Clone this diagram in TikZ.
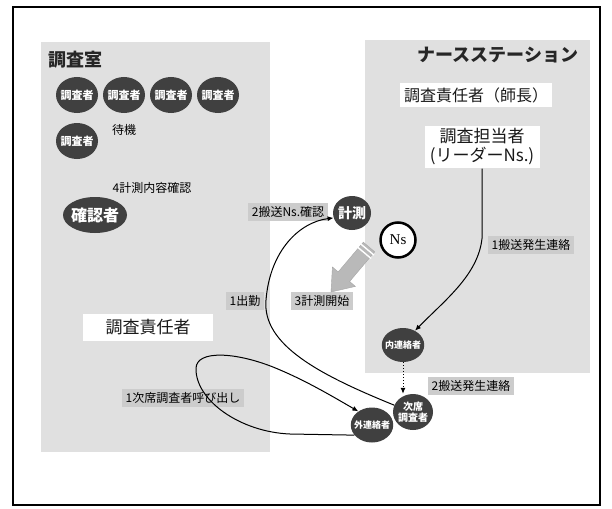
\documentclass[tikz,border=0pt]{standalone}
\usepackage{fontspec}
\setmainfont{Noto Sans CJK JP}
\newfontfamily\nsfont{Liberation Serif}
\usetikzlibrary{arrows.meta,calc,shapes.geometric}
\definecolor{roomc}{gray}{0.88}
\definecolor{lblbg}{gray}{0.80}
\definecolor{darkc}{gray}{0.25}
\begin{document}
\begin{tikzpicture}[x=1pt,y=-1pt,
  person/.style={ellipse, fill=darkc, text=white, inner sep=-3pt,
    font=\bfseries\fontsize{11}{12}\selectfont, minimum width=42pt, minimum height=36pt},
  lbl/.style={fill=lblbg, inner xsep=4pt, inner ysep=3pt, text=black,
    font=\fontsize{12}{13}\selectfont},
  plain/.style={text=black, font=\fontsize{12}{13}\selectfont},
  wbox/.style={fill=white, inner sep=3pt, text=black!90},
  conn/.style={line width=1pt, -{Latex[length=6pt,width=5pt]}},
]
\useasboundingbox (0,0) rectangle (612,508);
\fill[white] (0,0) rectangle (612,508);
% frame
\draw[line width=1.5pt] (13,7) rectangle (600,505);
% rooms
\fill[roomc] (41,42) rectangle (270,452);
\fill[roomc] (365,40) rectangle (590,373);

% titles
\node[anchor=west, text=black!85, font=\bfseries\fontsize{18}{20}\selectfont] (shitsu) at (45,60) {調査室};
\node[text=black!85, font=\bfseries\fontsize{18}{20}\selectfont] (nstation) at (498,55) {ナースステーション};

% white boxes
\node[wbox, minimum width=152pt, minimum height=24pt, font=\fontsize{16}{19}\selectfont] (sekinin) at (476,95) {調査責任者（師長）};
\node[wbox, align=center, minimum width=115pt, minimum height=40pt, font=\fontsize{17}{19}\selectfont] (tanto) at (482,147) {調査担当者\\(リーダーNs.)};
\node[wbox, minimum width=130pt, minimum height=27pt, font=\fontsize{17}{20}\selectfont] (sekinin2) at (148,327) {調査責任者};

% persons in room
\node[person] (c1) at (77,95) {調査者};
\node[person] (c2) at (124,95) {調査者};
\node[person] (c3) at (171,95) {調査者};
\node[person] (c4) at (218,95) {調査者};
\node[person] (c5) at (77,141) {調査者};
\node[plain] (taiki) at (124,130) {待機};
\node[plain] (kakunin4) at (152,188) {4計測内容確認};
\node[person, inner sep=-4pt, minimum width=64pt, minimum height=36pt, font=\bfseries\fontsize{16}{17}\selectfont] (kakuninsha) at (95,215) {確認者};

% measurement
\node[person, font=\bfseries\fontsize{14}{15}\selectfont, minimum width=38pt, minimum height=34pt] (keisoku) at (352,213) {計測};
\node[circle, draw=black, line width=2.5pt, fill=white, minimum size=35pt, inner sep=0pt, font=\nsfont\fontsize{15}{16}\selectfont] (nsc) at (398,240) {Ns};

% contacts
\node[person, font=\bfseries\fontsize{9}{10}\selectfont, minimum width=40pt, minimum height=34pt] (naire) at (403,345) {内連絡者};
\node[person, font=\bfseries\fontsize{9}{10}\selectfont, minimum width=40pt, minimum height=35pt] (gaire) at (372,425) {外連絡者};
\node[person, align=center, font=\bfseries\fontsize{10}{11}\selectfont, minimum width=40pt, minimum height=36pt] (jiseki) at (413,412) {次席\\調査者};

% labels
\node[lbl] (l2ns) at (288,212) {2搬送Ns.確認};
\node[lbl] (l1shukkin) at (245,301) {1出勤};
\node[lbl] (l3) at (322,301) {3計測開始};
\node[lbl] (l1han) at (531,245) {1搬送発生連絡};
\node[lbl] (l2han) at (471,386) {2搬送発生連絡};
\node[lbl] (l1ji) at (183,398) {1次席調査者呼び出し};

% gray block arrow
\fill[gray!55, draw=gray!70] (374.7,251.8) -- (349.6,281.5) -- (355.4,286.4) -- (331,292)
  -- (332.4,267.0) -- (338.2,271.9) -- (363.3,242.2) -- cycle;
\draw[white, line width=1.4pt] (374.0,255.1) -- (360.2,243.5);
\draw[white, line width=1.4pt] (371.1,258.5) -- (357.3,246.9);

% connectors
\draw[conn] (tanto.south) -- ++(0,70) .. controls (478,275) and (445,300) .. (naire.50);
\draw[conn, dotted] (naire.south) -- (naire.south |- jiseki.north);
\draw[conn] (jiseki.160) .. controls (320,375) and (262,345) .. (266,300)
  .. controls (270,250) and (300,222) .. (keisoku.195);
\draw[conn] (gaire.210) -- (290,434) .. controls (240,432) and (195,400) .. (196,368)
  .. controls (197,350) and (235,352) .. (273,367)
  .. controls (305,380) and (330,395) .. (gaire.135);
\end{tikzpicture}
\end{document}
